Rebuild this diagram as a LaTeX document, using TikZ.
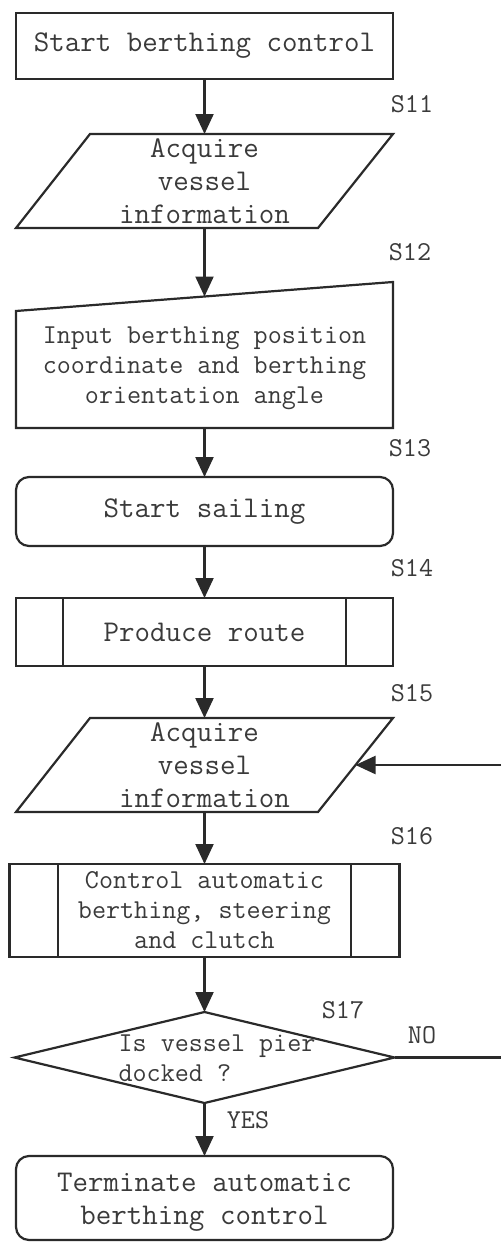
\documentclass[tikz,border=0pt]{standalone}
\usepackage{fontspec}
\usetikzlibrary{arrows.meta,calc}
\definecolor{inkline}{HTML}{2A2A2A}
\definecolor{inktext}{HTML}{3A3A3A}
\newcommand{\bigtxt}{\ttfamily\fontsize{30.1}{33}\selectfont}
\newcommand{\smalltxt}{\ttfamily\fontsize{27.3}{30}\selectfont}
\tikzset{
  outline/.style={draw=inkline, line width=2.2pt, line join=miter},
  frame/.style={inner sep=0pt, outer sep=0pt},
  boxtext/.style={inner sep=0pt, text=inktext, align=center},
  steplabel/.style={inner sep=0pt, text=inktext, font=\smalltxt},
  flow/.style={draw=inkline, line width=2.2pt, -{Triangle[length=20pt,width=18pt]}},
  plainline/.style={draw=inkline, line width=2.2pt},
}
\begin{document}
\begin{tikzpicture}[x=1pt,y=-1pt]
\useasboundingbox (0,0) rectangle (501,1243);

% start box
\node[frame, outline, minimum width=377pt, minimum height=66pt] (start) at (204.5,46) {};
\node[boxtext, font=\bigtxt] at (start.center) {Start berthing control};

% acquire vessel information (first)
\node[frame, minimum width=377pt, minimum height=94pt] (acq1) at (204.5,181) {};
\draw[outline] ($(acq1.north west)+(74,0)$) -- (acq1.north east)
  -- ($(acq1.south east)-(75,0)$) -- (acq1.south west) -- cycle;
\node[boxtext, font=\bigtxt] at (acq1.center) {Acquire\\vessel\\information};

% manual input of berthing target
\node[frame, minimum width=377pt, minimum height=146pt] (input) at (204.5,355) {};
\coordinate (inTL) at (16,311);
\coordinate (inTR) at (393,282);
\draw[outline] (inTL) -- (inTR) -- (input.south east) -- (input.south west) -- cycle;
\coordinate (inTop) at ($(inTL)!0.5!(inTR)$);
\node[boxtext, font=\smalltxt] at (204.5,368) {Input berthing position\\coordinate and berthing\\orientation angle};

% start sailing
\node[frame, outline, rounded corners=13pt, minimum width=377pt, minimum height=69pt] (sail) at (204.5,511.5) {};
\node[boxtext, font=\bigtxt] at (sail.center) {Start sailing};

% produce route (predefined process)
\node[frame, outline, minimum width=377pt, minimum height=68pt] (route) at (204.5,632) {};
\draw[outline] (63,598) -- (63,666) (346,598) -- (346,666);
\node[boxtext, font=\bigtxt] at (route.center) {Produce route};

% acquire vessel information (second)
\node[frame, minimum width=377pt, minimum height=94pt] (acq2) at (204.5,765) {};
\coordinate (a2TR) at (acq2.north east);
\coordinate (a2BR) at ($(acq2.south east)-(75,0)$);
\draw[outline] ($(acq2.north west)+(74,0)$) -- (a2TR) -- (a2BR) -- (acq2.south west) -- cycle;
\coordinate (a2E) at ($(a2TR)!0.5!(a2BR)$);
\node[boxtext, font=\bigtxt] at (acq2.center) {Acquire\\vessel\\information};

% automatic berthing control (predefined process)
\node[frame, outline, minimum width=390pt, minimum height=93pt] (ctrl) at (204.5,910.5) {};
\draw[outline] (58,864) -- (58,957) (351,864) -- (351,957);
\node[boxtext, font=\smalltxt] at (ctrl.center) {Control automatic\\berthing, steering\\and clutch};

% docking decision
\node[frame, minimum width=380pt, minimum height=91pt] (dock) at (204.5,1057.5) {};
\draw[outline] (dock.north) -- (dock.east) -- (dock.south) -- (dock.west) -- cycle;
\node[boxtext, align=left, font=\smalltxt] at (217,1058) {Is vessel pier\\docked ?};

% terminate
\node[frame, outline, rounded corners=13pt, minimum width=377pt, minimum height=84pt] (stop) at (204.5,1198) {};
\node[boxtext, font=\bigtxt] at (204.5,1202.5) {Terminate automatic\\berthing control};

% loop-back ends at the right margin
\coordinate (noEnd) at (501,1057.5);
\coordinate (backStart) at (501,765);

% connectors
\draw[flow] (start.south) -- (acq1.north);
\draw[flow] (acq1.south) -- (inTop);
\draw[flow] (input.south) -- (sail.north);
\draw[flow] (sail.south) -- (route.north);
\draw[flow] (route.south) -- (acq2.north);
\draw[flow] (acq2.south) -- (ctrl.north);
\draw[flow] (ctrl.south) -- (dock.north);
\draw[flow] (dock.south) -- (stop.north);
\draw[plainline] (dock.east) -- (noEnd);
\draw[flow] (backStart) -- (a2E);

% step labels
\node[steplabel] (s11) at (412,104) {S11};
\node[steplabel] (s12) at (410,252) {S12};
\node[steplabel] (s13) at (410,448) {S13};
\node[steplabel] (s14) at (412,568) {S14};
\node[steplabel] (s15) at (412,693) {S15};
\node[steplabel] (s16) at (412,836) {S16};
\node[steplabel] (s17) at (343,1010) {S17};
\node[steplabel] (no) at (422,1035) {NO};
\node[steplabel] (yes) at (248,1120) {YES};
\end{tikzpicture}
\end{document}
